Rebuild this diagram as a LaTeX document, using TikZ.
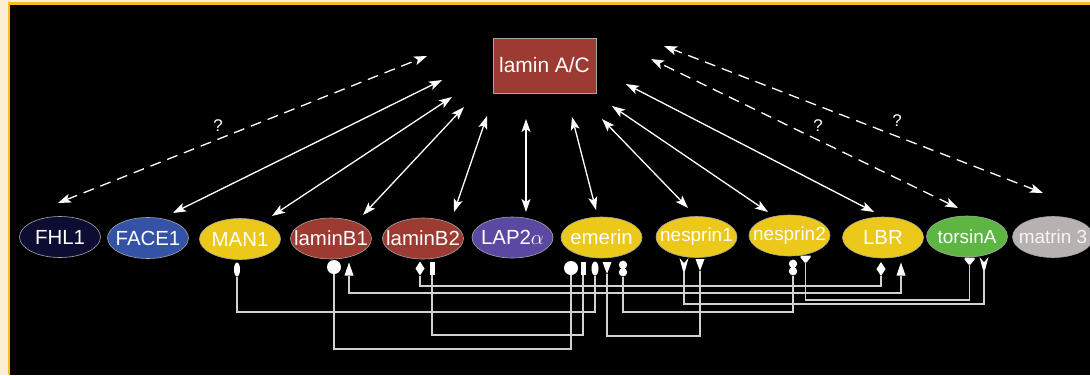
\documentclass[tikz,border=0pt]{standalone}
\usepackage{fontspec}
\setmainfont{Liberation Sans}
\usetikzlibrary{shapes.geometric,arrows.meta,calc}
\definecolor{cream}{HTML}{FCEED2}
\definecolor{frameor}{HTML}{F6BE1E}
\definecolor{navy}{HTML}{0D0D33}
\definecolor{faceblue}{HTML}{3453A6}
\definecolor{yel}{HTML}{EBC819}
\definecolor{brick}{HTML}{9C3B32}
\definecolor{purp}{HTML}{5A48A2}
\definecolor{grn}{HTML}{5CB641}
\definecolor{gry}{HTML}{B8B1B1}
\definecolor{linkc}{HTML}{D2D2D2}
\newcommand\lbltxt[1]{\makebox[0pt]{#1}}
\begin{document}
\begin{tikzpicture}[x=1bp,y=-1bp,
  ell/.style={ellipse, draw=gray!70, line width=0.6bp, minimum width=81bp, minimum height=41bp,
    inner sep=0pt, text=white, font=\fontsize{20.5}{21}\selectfont},
  dbl/.style={draw=white, line width=1.3bp, {Stealth[length=13bp,width=9bp,inset=3bp]}-{Stealth[length=13bp,width=9bp,inset=3bp]}},
  dsh/.style={dbl, dash pattern=on 11bp off 7bp},
  qm/.style={text=white, font=\fontsize{17}{18}\selectfont, inner sep=0pt},
  link/.style={draw=linkc, line width=1.3bp},
  sym/.style={inner sep=0pt, outer sep=0pt},
  sell/.style={sym, ellipse, fill=white, minimum width=6bp, minimum height=14bp},
  scirc/.style={sym, circle, fill=white, minimum size=14bp},
  rectsym/.style={sym, rectangle, fill=white, minimum width=5bp, minimum height=13bp},
  triup/.style={sym, rectangle, minimum width=9bp, minimum height=13bp,
    path picture={\fill[white] (path picture bounding box.south west) -- (path picture bounding box.south east) -- (path picture bounding box.north) -- cycle;}},
  tridn/.style={sym, rectangle, minimum width=9bp, minimum height=12bp,
    path picture={\fill[white] (path picture bounding box.north west) -- (path picture bounding box.north east) -- (path picture bounding box.south) -- cycle;}},
  dia/.style={sym, rectangle, minimum width=9bp, minimum height=14bp,
    path picture={\fill[white] (path picture bounding box.north) -- (path picture bounding box.east) -- (path picture bounding box.south) -- (path picture bounding box.west) -- cycle;}},
  fork/.style={sym, rectangle, minimum width=9bp, minimum height=13bp,
    path picture={\fill[white] (path picture bounding box.north west) -- ($(path picture bounding box.north)!0.4!(path picture bounding box.south)$) -- (path picture bounding box.north east) -- ($(path picture bounding box.south)+(1bp,0bp)$) -- ($(path picture bounding box.south)+(-1bp,0bp)$) -- cycle;}},
  cup/.style={sym, rectangle, minimum width=10bp, minimum height=7bp,
    path picture={\fill[white] (path picture bounding box.north west) -- (path picture bounding box.north east) -- ($(path picture bounding box.north east)+(0bp,-2bp)$) -- ($(path picture bounding box.south)+(1bp,0bp)$) -- ($(path picture bounding box.south)+(-1bp,0bp)$) -- ($(path picture bounding box.north west)+(0bp,-2bp)$) -- cycle;}},
  eight/.style={sym, rectangle, minimum width=9bp, minimum height=16bp,
    path picture={\fill[white] ($(path picture bounding box.north)!0.27!(path picture bounding box.south)$) circle (4.2bp) ($(path picture bounding box.north)!0.73!(path picture bounding box.south)$) circle (4.2bp);}}
]
\path[use as bounding box] (0,0) rectangle (1090,375);
\fill[cream] (0,0) rectangle (1090,375);
\fill[frameor] (8,2) rectangle (1090,375);
\fill[black] (10,5) rectangle (1090,375);

% central node
\node[draw=gray!70, line width=0.6bp, fill=brick, minimum width=103bp, minimum height=55bp,
  text=white, font=\fontsize{21}{22}\selectfont, inner sep=0pt] (lamin) at (544.5,65.5) {\raisebox{-2bp}{lamin A/C}};

% partner nodes
\node[ell, fill=navy] (fhl) at (60,237) {\lbltxt{FHL1}};
\node[ell, fill=faceblue] (face) at (148,238) {\lbltxt{FACE1}};
\node[ell, fill=yel] (man) at (240,239) {\lbltxt{MAN1}};
\node[ell, fill=brick] (lbone) at (331,238.5) {\lbltxt{laminB1}};
\node[ell, fill=brick] (lbtwo) at (423,238.5) {\lbltxt{laminB2}};
\node[ell, fill=purp] (lap) at (512.5,237.5) {\lbltxt{LAP2$\alpha$}};
\node[ell, fill=yel] (emerin) at (601.5,237.5) {\lbltxt{emerin}};
\node[ell, fill=yel] (nesone) at (696.5,237) {\lbltxt{\fontsize{19}{20}\selectfont nesprin1}};
\node[ell, fill=yel] (nestwo) at (789.5,235.5) {\lbltxt{\fontsize{19}{20}\selectfont nesprin2}};
\node[ell, fill=yel] (lbr) at (883,237.5) {\lbltxt{LBR}};
\node[ell, fill=grn] (torsin) at (967,236.5) {\lbltxt{\fontsize{19}{20}\selectfont torsinA}};
\node[ell, fill=gry, text=white!92!gray] (matrin) at (1053,237) {\lbltxt{\fontsize{19}{20}\selectfont matrin 3}};

% arrow end points
\coordinate (fhlT) at (427,56);   \coordinate (fhlB) at (58,203);
\coordinate (faceT) at (442,80);  \coordinate (faceB) at (173,213);
\coordinate (manT) at (452,97);   \coordinate (manB) at (272,216);
\coordinate (lboneT) at (464,107); \coordinate (lboneB) at (363,215);
\coordinate (lbtwoT) at (487,116); \coordinate (lbtwoB) at (454,212);
\coordinate (lapT) at (526,119);  \coordinate (lapB) at (526,212);
\coordinate (emT) at (572,117);   \coordinate (emB) at (596,210);
\coordinate (nOneT) at (602,119); \coordinate (nOneB) at (688,208);
\coordinate (nTwoT) at (612,106); \coordinate (nTwoB) at (768,212);
\coordinate (lbrT) at (626,84);   \coordinate (lbrB) at (874,212);
\coordinate (torT) at (651,59);   \coordinate (torB) at (958,208);
\coordinate (matT) at (664,46);   \coordinate (matB) at (1043,193);

\draw[dsh] (fhlB) -- (fhlT);
\draw[dbl] (faceB) -- (faceT);
\draw[dbl] (manB) -- (manT);
\draw[dbl] (lboneB) -- (lboneT);
\draw[dbl] (lbtwoB) -- (lbtwoT);
\draw[dbl] (lapB) -- (lapT);
\draw[dbl] (emB) -- (emT);
\draw[dbl] (nOneB) -- (nOneT);
\draw[dbl] (nTwoB) -- (nTwoT);
\draw[dbl] (lbrB) -- (lbrT);
\draw[dsh] (torB) -- (torT);
\draw[dsh] (matB) -- (matT);

\node[qm] (qa) at (218,126) {?};
\node[qm] (qb) at (818,126) {?};
\node[qm] (qc) at (897,121) {?};

% binding-site symbols
\node[sell] (sman) at (237,269.5) {};
\node[scirc] (slbonec) at (334,267) {};
\node[triup] (slbonet) at (349,269) {};
\node[dia] (slbtwod) at (420,268.5) {};
\node[rectsym] (slbtwor) at (432,268.5) {};
\node[scirc] (semc) at (571,268) {};
\node[rectsym] (semr) at (583,268.5) {};
\node[sell, minimum width=7bp] (seme) at (595,268.5) {};
\node[tridn] (semt) at (607,268) {};
\node[eight] (semeight) at (623,268.5) {};
\node[fork] (snonef) at (684,264.5) {};
\node[tridn] (snonet) at (700,265) {};
\node[eight] (sntwoeight) at (793,267.5) {};
\node[cup] (sntwoc) at (805.5,259) {};
\node[dia] (slbrd) at (881,269) {};
\node[triup] (slbrt) at (901,269) {};
\node[cup] (stac) at (969.5,261) {};
\node[fork] (staf) at (984,263.5) {};

% connectors
\draw[link] (sman.south) -- (sman.south |- 0,312) -| (seme.south);
\draw[link] (slbonec.south) -- (slbonec.south |- 0,349) -| (semc.south);
\draw[link] (slbonet.south) -- (slbonet.south |- 0,293) -| (slbrt.south);
\draw[link] (slbtwod.south) -- (slbtwod.south |- 0,286) -| (slbrd.south);
\draw[link] (slbtwor.south) -- (slbtwor.south |- 0,335) -| (semr.south);
\draw[link] (semt.south) -- (semt.south |- 0,336) -| (snonet.south);
\draw[link] (semeight.south) -- (semeight.south |- 0,312) -| (sntwoeight.south);
\draw[link] (snonef.south) -- (snonef.south |- 0,304) -| (staf.south);
\draw[link] (sntwoc.south) -- (sntwoc.south |- 0,300) -| (stac.south);
\end{tikzpicture}
\end{document}
